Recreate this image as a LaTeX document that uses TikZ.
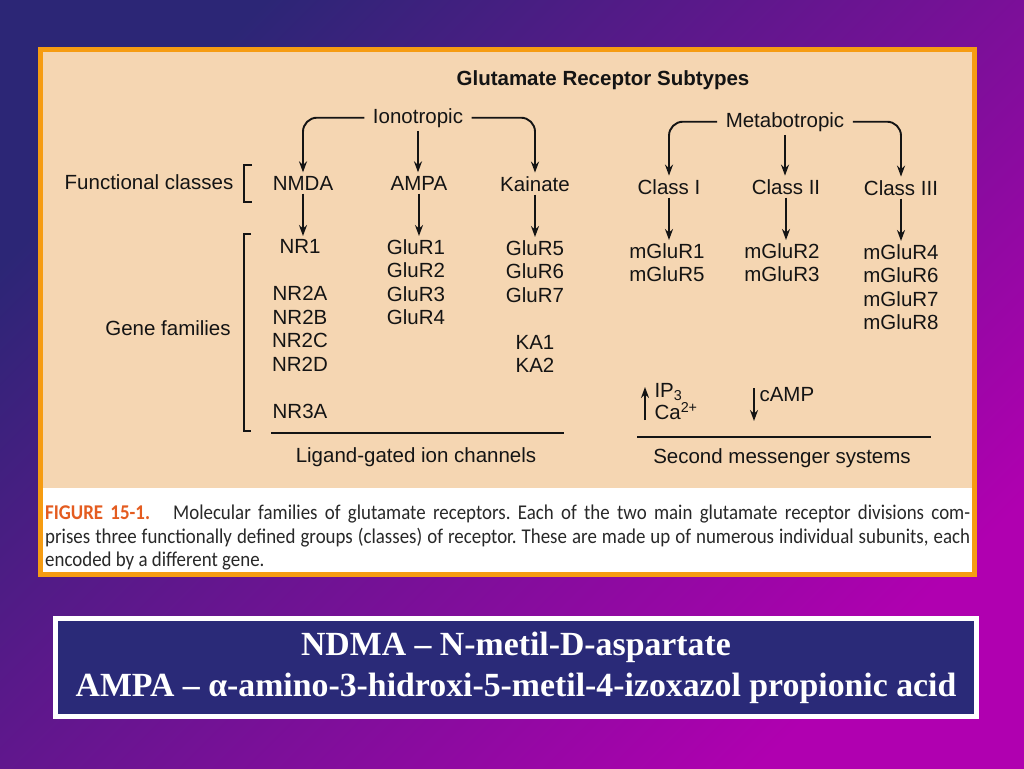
\documentclass[tikz,border=0pt]{standalone}
\usepackage{fontspec}
\setmainfont{Liberation Sans}
\newfontfamily\capfont[FakeStretch=0.9]{Carlito}
\newfontfamily\notefont{Liberation Serif}
\usetikzlibrary{arrows.meta}

\definecolor{bgtop}{RGB}{44,38,118}
\definecolor{bgbot}{RGB}{176,0,176}
\definecolor{frameorange}{RGB}{246,156,18}
\definecolor{paper}{RGB}{245,214,178}
\definecolor{figred}{RGB}{228,92,32}
\definecolor{capgray}{RGB}{40,40,40}
\definecolor{notenavy}{RGB}{42,42,120}
\definecolor{ink}{RGB}{20,20,20}

\begin{document}
\begin{tikzpicture}[x=1pt, y=-1pt,
    lbl/.style={font=\fontsize{20.5}{23.5}\selectfont, text=ink, anchor=base},
    titlelbl/.style={font=\fontsize{20.5}{23.5}\selectfont\bfseries, text=ink, anchor=base},
    glist/.style={font=\fontsize{20.5}{23.5}\selectfont, text=ink, align=center, anchor=north},
    conn/.style={-{Stealth[length=11pt,width=8pt]}, line width=1.9pt, draw=ink},
    elbow/.style={conn, rounded corners=14pt, shorten <=5pt},
    rule/.style={line width=1.4pt, draw=ink}]

  % background and frame
  \useasboundingbox (0,0) rectangle (1024,768);
  \shade[top color=bgtop, bottom color=bgbot, shading angle=45] (0,0) rectangle (1024,768);
  \fill[paper] (43,52) rectangle (972,488);
  \fill[white] (43,488) rectangle (972,572);
  \draw[frameorange, line width=5pt] (40.5,49.5) rectangle (974.5,574.5);

  \node[titlelbl] (title) at (603,85) {Glutamate Receptor Subtypes};

  % receptor divisions and classes
  \node[lbl] (iono) at (418,123) {Ionotropic};
  \node[lbl] (meta) at (785,127) {Metabotropic};
  \node[lbl] (fclass) at (149,189) {Functional classes};
  \node[lbl] (nmda) at (303,190) {NMDA};
  \node[lbl] (ampa) at (419,190) {AMPA};
  \node[lbl] (kain) at (535,191) {Kainate};
  \node[lbl] (cls1) at (669,194) {Class I};
  \node[lbl] (cls2) at (786,194) {Class II};
  \node[lbl] (cls3) at (901,195) {Class III};
  \node[lbl] (gfam) at (168,335) {Gene families};

  % gene families
  \node[glist] (nrlist) at (300,236) {NR1\\[23.5pt]NR2A\\NR2B\\NR2C\\NR2D\\[23.5pt]NR3A};
  \node[glist] (glulist) at (416,236) {GluR1\\GluR2\\GluR3\\GluR4};
  \node[glist] (kalist) at (535,237) {GluR5\\GluR6\\GluR7\\[23.5pt]KA1\\KA2};
  \node[glist] (m1list) at (667,240) {mGluR1\\mGluR5};
  \node[glist] (m2list) at (782,240) {mGluR2\\mGluR3};
  \node[glist] (m3list) at (901,241) {mGluR4\\mGluR6\\mGluR7\\mGluR8};

  \draw[elbow] (iono.west) -| (nmda.north);
  \draw[conn] (iono.south) -- (iono.south |- ampa.north);
  \draw[elbow] (iono.east) -| (kain.north);
  \draw[elbow] (meta.west) -| (cls1.north);
  \draw[conn] (meta.south) -- (meta.south |- cls2.north);
  \draw[elbow] (meta.east) -| (cls3.north);

  \draw[conn] (nmda.south) -- (nmda.south |- nrlist.north);
  \draw[conn] (ampa.south) -- (ampa.south |- glulist.north);
  \draw[conn] (kain.south) -- (kain.south |- kalist.north);
  \draw[conn] (cls1.south) -- (cls1.south |- m1list.north);
  \draw[conn] (cls2.south) -- (cls2.south |- m2list.north);
  \draw[conn] (cls3.south) -- (cls3.south |- m3list.north);

  % brackets
  \draw[rule] (252,165) -| (244,202) -- (252,202);
  \draw[rule] (251,234) -| (244,431) -- (251,431);

  % second messengers
  \node[glist, align=left, anchor=north west, font=\fontsize{20.5}{22}\selectfont] (ipca) at (651,380) {IP\textsubscript{3}\\Ca\textsuperscript{2+}};
  \node[lbl, anchor=base west] (camp) at (756,401) {cAMP};
  \coordinate (ipbot) at (645,420);
  \coordinate (iptop) at (645,387);
  \coordinate (cptop) at (754,388);
  \coordinate (cpbot) at (754,421);
  \draw[conn] (ipbot) -- (iptop);
  \draw[conn] (cptop) -- (cpbot);

  \draw[rule] (271,433) -- (564,433);
  \node[lbl] (lgic) at (416,462) {Ligand-gated ion channels};
  \draw[rule] (637,437) -- (931,437);
  \node[lbl] (sms) at (782,463) {Second messenger systems};

  % caption
  \node[anchor=north west, text width=925pt, align=justify, inner sep=0pt, text=capgray,
        font=\capfont\fontsize{21}{23.5}\selectfont\frenchspacing] (cap) at (45,505)
    {{\color{figred}\bfseries FIGURE 15-1.}\hspace{1.1em}Molecular families of glutamate receptors. Each of the two main glutamate receptor divisions com-\linebreak prises three functionally defined groups (classes) of receptor. These are made up of numerous individual subunits, each\linebreak encoded by a different gene.};

  % note box
  \node[draw=white, line width=5pt, fill=notenavy, minimum width=921pt, minimum height=98pt,
        inner sep=0pt, text=white, align=center,
        font=\notefont\bfseries\fontsize{33.8}{41}\selectfont] (note) at (516,667.5)
    {NDMA – N-metil-D-aspartate\\AMPA – α-amino-3-hidroxi-5-metil-4-izoxazol propionic acid};
\end{tikzpicture}
\end{document}
